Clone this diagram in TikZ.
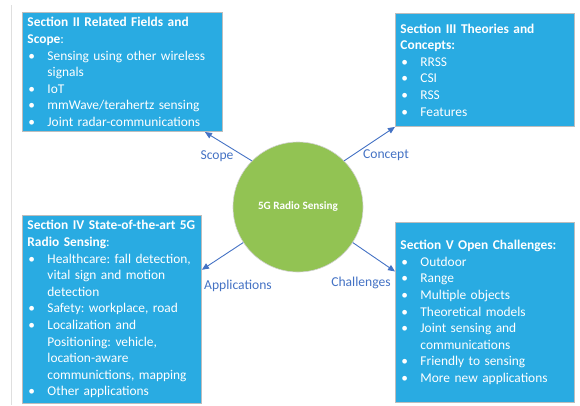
\documentclass[tikz,border=0pt]{standalone}
\usepackage{fontspec}
\setmainfont{Carlito}
\usetikzlibrary{arrows.meta,positioning}
\definecolor{boxblue}{HTML}{29ABE2}
\definecolor{boxline}{HTML}{BDBDBD}
\definecolor{hubgreen}{HTML}{92C353}
\definecolor{linkblue}{HTML}{4472C4}
\newcommand{\bl}{\par\hangindent=20pt\hangafter=1\noindent\hbox to 20pt{\hskip1pt\textbullet\hfil}}
\frenchspacing

\begin{document}
\begin{tikzpicture}[x=1pt,y=-1pt,
  sec/.style={draw=boxline,line width=0.9pt,fill=boxblue,text=white,anchor=north west,
              inner sep=5pt,align=left,font=\fontsize{13.4}{16.6}\selectfont},
  hub/.style={circle,draw=boxline!70,line width=0.6pt,fill=hubgreen,text=white,
              minimum size=130pt,inner sep=0pt,font=\bfseries\fontsize{11.2}{13}\selectfont},
  link/.style={linkblue,line width=0.9pt,-{Triangle[length=7pt,width=6pt]}},
  lbl/.style={text=linkblue,inner sep=0pt,font=\fontsize{13.6}{16}\selectfont}]
  \useasboundingbox (0,0) rectangle (580,405);
  \draw[gray!25,line width=0.8pt] (11,5) -- (11,405);

  \node[hub] (hub) at (298,207) {5G Radio Sensing};

  \node[sec,minimum width=200pt,text width=190pt,minimum height=114pt] (scope) at (22,12)
    {\mbox{\textbf{Section II Related Fields and}}\newline\textbf{Scope}:%
     \bl Sensing using other wireless\newline signals
     \bl IoT
     \bl mmWave/terahertz sensing
     \bl Joint radar-communications};
  \node[sec,minimum width=179pt,text width=169pt,minimum height=113pt] (theory) at (395,13)
    {\mbox{\textbf{Section III Theories and}}\newline\textbf{Concepts:}%
     \bl RRSS
     \bl CSI
     \bl RSS
     \bl Features};
  \node[sec,minimum width=179pt,text width=169pt,minimum height=187pt] (apps) at (22,215)
    {\mbox{\textbf{Section IV State-of-the-art 5G}}\newline\textbf{Radio Sensing}:%
     \bl Healthcare: fall detection,\newline vital sign and motion\newline detection
     \bl Safety: workplace, road
     \bl Localization and\newline Positioning: vehicle,\newline location-aware\newline \mbox{communictions, mapping}
     \bl Other applications};
  \node[sec,minimum width=179pt,text width=169pt,minimum height=180pt] (open) at (395,222)
    {\mbox{\textbf{Section V Open Challenges:}}%
     \bl Outdoor
     \bl Range
     \bl Multiple objects
     \bl Theoretical models
     \bl Joint sensing and\newline communications
     \bl Friendly to sensing
     \bl More new applications};

  \draw[link] (hub.135) -- ([xshift=-18pt]scope.south east);
  \draw[link] (hub.45) -- (theory.south west);
  \draw[link] (hub.213) -- ([yshift=39.5pt]apps.east);
  \draw[link] (hub.327) -- ([yshift=41pt]open.west);

  \node[lbl] (scopelbl) at (217,156) {Scope};
  \node[lbl] (conceptlbl) at (386,155) {Concept};
  \node[lbl] (appslbl) at (238,286) {Applications};
  \node[lbl] (challlbl) at (361,283) {Challenges};
\end{tikzpicture}
\end{document}
